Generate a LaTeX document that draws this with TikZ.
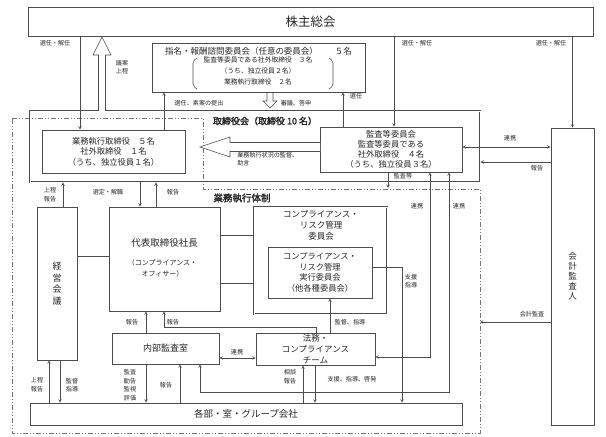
\documentclass[tikz,border=0pt]{standalone}
\usepackage{fontspec}
\setmainfont{Noto Sans CJK JP}[AutoFakeBold=2]
\usetikzlibrary{positioning,calc}

\begin{document}
\begin{tikzpicture}[>=stealth, x=1pt, y=-1pt, line width=0.55pt,
  box/.style={draw=black!70, inner sep=0pt, align=center, text=black!85,
    font=\fontsize{8.3}{10.5}\selectfont},
  dbox/.style={box, double=white, double distance=1pt, line width=0.85pt},
  ttl/.style={inner sep=0pt, align=center, text=black!85},
  lb/.style={inner sep=0pt, align=center, text=black!85,
    font=\fontsize{6.1}{8.6}\selectfont},
  con/.style={draw=black!70},
  hollow/.style={draw=black!70, fill=white, line join=miter},
  area/.style={draw=black!55,
    dash pattern=on 5pt off 2pt on 1pt off 2pt on 1pt off 2pt}]

\useasboundingbox (0,0) rectangle (606,437);

\draw[area] (12,118) -- (203,118) -- (203,189) -- (480,189)
  -- (480,433) -- (12,433) -- cycle;

\node[box, minimum width=565, minimum height=29,
  font=\fontsize{12.5}{14}\selectfont] (kabu) at (310.5,21.5) {株主総会};
\node[box, minimum width=213, minimum height=49] (shimei) at (258.5,67.5) {};
\node[ttl, font=\fontsize{8.5}{10}\selectfont] (shimeit) at (258.5,51)
  {指名・報酬諮問委員会（任意の委員会）　　５名};
\node[ttl, font=\fontsize{6.8}{11.3}\selectfont] (shimeib) at (258,71)
  {監査等委員である社外取締役　３名\\（うち、独立役員２名）\\業務執行取締役　２名};
\draw[con, rounded corners=2pt] (197,58) -- (193,61) -- (193,86) -- (197,89);
\draw[con, rounded corners=2pt] (329,58) -- (333,61) -- (333,86) -- (329,89);

\node[dbox, minimum width=450, minimum height=71] (torikai) at (255,146.5) {};
\node[ttl, font=\bfseries\fontsize{9}{11}\selectfont] (torikait) at (265,121)
  {取締役会（取締役 10 名）};
\node[box, minimum width=143, minimum height=43] (gyomu) at (113.5,151.5)
  {業務執行取締役　５名\\社外取締役　１名\\（うち、独立役員１名）};
\node[box, minimum width=142, minimum height=45,
  font=\fontsize{8.3}{10}\selectfont] (kansa) at (391,149.5)
  {監査等委員会\\監査等委員である\\社外取締役　４名\\（うち、独立役員３名）};
\node[box, minimum width=43, minimum height=297,
  font=\fontsize{8.5}{10}\selectfont] (kaikei) at (572.5,276.5)
  {会\\計\\監\\査\\人};

\node[ttl, font=\bfseries\fontsize{9.5}{11}\selectfont] (taisei) at (242,198)
  {業務執行体制};
\node[box, minimum width=40, minimum height=153,
  font=\fontsize{9}{11.5}\selectfont] (keiei) at (57,283.5)
  {経\\営\\会\\議};
\node[box, minimum width=111, minimum height=104] (shacho) at (164.5,259) {};
\node[ttl, font=\fontsize{9.5}{11}\selectfont] (shachot) at (164.5,243)
  {代表取締役社長};
\node[ttl, font=\fontsize{7}{11}\selectfont] (shachos) at (162.5,268.5)
  {（コンプライアンス・\\オフィサー）};
\node[dbox, minimum width=133, minimum height=107] (crc) at (320.5,260.5) {};
\node[ttl, font=\fontsize{8.5}{11}\selectfont] (crct) at (321,225)
  {コンプライアンス・\\リスク管理\\委員会};
\node[box, minimum width=104, minimum height=51,
  font=\fontsize{8.3}{10.7}\selectfont] (jikko) at (320,272.5)
  {コンプライアンス・\\リスク管理\\実行委員会\\（他各種委員会）};
\node[box, minimum width=107, minimum height=31,
  font=\fontsize{9}{11}\selectfont] (naibu) at (165.5,348.5) {内部監査室};
\node[box, minimum width=119, minimum height=32,
  font=\fontsize{8.5}{11}\selectfont] (homu) at (315.5,349)
  {法務・\\コンプライアンス\\チーム};
\node[box, minimum width=432, minimum height=22,
  font=\fontsize{9.5}{11}\selectfont] (kakubu) at (246,414)
  {各部・室・グループ会社};

\draw[hollow] (98.5,111) -- (98.5,55) -- (93,55) -- (102,37) -- (111,55)
  -- (105.5,55) -- (105.5,111);
\draw[hollow] (267,93) -- (267,101) -- (263,101) -- (270,108) -- (277,101)
  -- (273,101) -- (273,93);
\draw[hollow] (320,142.5) -- (230,142.5) -- (230,137) -- (200,147)
  -- (230,157) -- (230,151.5) -- (320,151.5);

\draw[con,->] (80,0 |- kabu.south) -- (80,0 |- gyomu.north);
\draw[con,->] (164,0 |- gyomu.north) -- (164,0 |- shimei.south);
\draw[con,->] (343,0 |- kansa.north) -- (343,0 |- shimei.south);
\draw[con,->] (394,0 |- kabu.south) -- (394,0 |- kansa.north);
\draw[con,->] (572.5,0 |- kabu.south) -- (kaikei.north);
\draw[con,<->] (kansa.east |- 0,147) -- (kaikei.west |- 0,147);
\draw[con,->] (kaikei.west |- 0,162) -- (torikai.east |- 0,162);
\draw[con,->] (kaikei.west |- 0,322) -- (480,322);
\draw[con,->] (388,0 |- kansa.south) -- (388,188);
\draw[con,<->] (430,0 |- kansa.south) -- (430,357) -- (homu.east |- 0,357);
\draw[con,<->] (449,0 |- kansa.south) -- (449,392) -- (200,392)
  -- (200,0 |- naibu.south);
\draw[con,->] (jikko.east |- 0,267) -- (402,267) -- (402,0 |- kakubu.north);

\draw[con,->] (63,0 |- keiei.north) -- (63,0 |- torikai.south);
\draw[con,->] (140,0 |- torikai.south) -- (140,0 |- shacho.north);
\draw[con,->] (156,0 |- shacho.north) -- (156,0 |- torikai.south);
\draw[con] (keiei.east |- 0,256) -- (shacho.west |- 0,256);
\draw[con] (shacho.east |- 0,235) -- (crc.west |- 0,235);
\draw[con] (shacho.east |- 0,283) -- (crc.west |- 0,283);
\draw[con,->] (146,0 |- naibu.north) -- (146,0 |- shacho.south);
\draw[con,->] (316,0 |- homu.north) -- (316,327) -- (164,327)
  -- (164,0 |- shacho.south);
\draw[con,->] (330,0 |- homu.north) -- (330,0 |- jikko.south);
\draw[con,<->] (naibu.east |- 0,358) -- (homu.west |- 0,358);
\draw[con,->] (146,0 |- naibu.south) -- (146,0 |- kakubu.north);
\draw[con,->] (180,0 |- kakubu.north) -- (180,0 |- naibu.south);
\draw[con,->] (303,0 |- kakubu.north) -- (303,0 |- homu.south);
\draw[con,->] (315,0 |- homu.south) -- (315,0 |- kakubu.north);
\draw[con,->] (49,0 |- kakubu.north) -- (49,0 |- keiei.south);
\draw[con,->] (60,0 |- keiei.south) -- (60,0 |- kakubu.north);

\node[lb] (tSen1) at (55,43) {選任・解任};
\node[lb] (tGian) at (122,67) {議案\\上程};
\node[lb] (tSoan) at (199,103) {選任、素案の提出};
\node[lb] (tToshin) at (296,103) {審議、答申};
\node[lb] (tSen2) at (356,96) {選任};
\node[lb] (tSen3) at (417,43) {選任・解任};
\node[lb] (tSen4) at (551,43) {選任・解任};
\node[lb, align=left, anchor=west] (tKantoku) at (237,159)
  {業務執行状況の監督、\\助言};
\node[lb] (tKansaTo) at (403,176) {監査等};
\node[lb] (tRenkei1) at (510,138) {連携};
\node[lb] (tHokoku1) at (537,168) {報告};
\node[lb] (tRenkei2) at (417,206) {連携};
\node[lb] (tRenkei3) at (459,206) {連携};
\node[lb] (tShien) at (411,281) {支援\\指導};
\node[lb] (tKaikeiK) at (532,314) {会計監査};
\node[lb] (tJotei1) at (50,195) {上程\\報告};
\node[lb] (tSentei) at (108,192) {選定・解職};
\node[lb] (tHokoku2) at (173,192) {報告};
\node[lb] (tHokoku3) at (132,322) {報告};
\node[lb] (tHokoku4) at (173,322) {報告};
\node[lb] (tShido) at (350,322) {監督、指導};
\node[lb] (tRenkei4) at (237,352) {連携};
\node[lb] (tKansa4) at (130,385) {監査\\勧告\\監視\\評価};
\node[lb] (tHokoku5) at (166,385) {報告};
\node[lb] (tJotei2) at (37,385) {上程\\報告};
\node[lb] (tKantoku2) at (72,385) {監督\\指導};
\node[lb] (tSodan) at (290,377) {相談\\報告};
\node[lb] (tShien2) at (352,379) {支援、指導、啓発};

\end{tikzpicture}
\end{document}
